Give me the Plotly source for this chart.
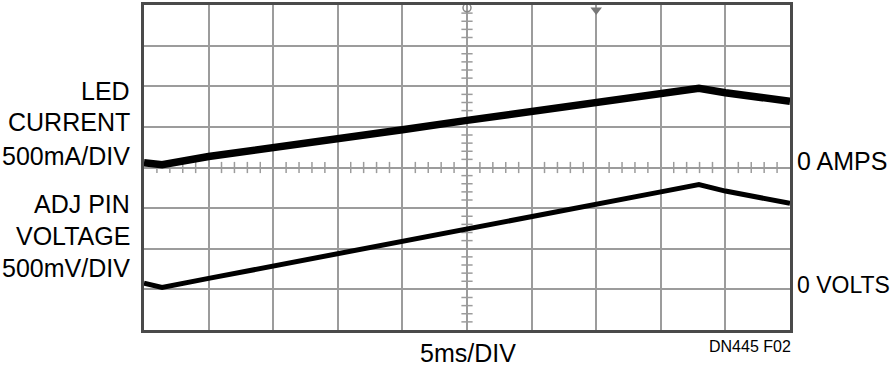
import plotly.graph_objects as go

# Time axis in divisions (5 ms/div), amplitude in divisions
led_x = [0.0, 0.28, 1.0, 2.0, 2.9, 4.0, 5.0, 6.1, 6.9, 7.05, 8.0, 8.59, 9.0, 10.0]
led_y = [0.12, 0.07, 0.27, 0.48, 0.68, 0.93, 1.16, 1.41, 1.58, 1.64, 1.83, 1.95, 1.84, 1.63]

adj_x = [0.0, 0.28, 1.0, 2.0, 3.0, 5.0, 7.0, 8.0, 8.59, 9.0, 10.0]
adj_y = [-2.85, -2.95, -2.73, -2.43, -2.12, -1.51, -0.9, -0.6, -0.42, -0.58, -0.88]

left_labels = ["LED", "CURRENT", "500mA/DIV", "ADJ PIN", "VOLTAGE", "500mV/DIV"]
left_label_y = [0.7346, 0.6401, 0.5364, 0.387, 0.2895, 0.1919]
right_labels = ["0 AMPS", "0 VOLTS"]
right_label_y = [0.5212, 0.137]
right_label_size = [25, 23]

FONT = "Liberation Sans, Arial, sans-serif"
GRID = "#9c9c9c"

fig = go.Figure()

# minor ticks on centre lines
minor_h = [i * 0.2 for i in range(1, 50) if i % 5 != 0]
minor_v = [-4 + i * 0.2 for i in range(1, 40) if i % 5 != 0]
fig.add_trace(go.Scatter(x=minor_h, y=[0] * len(minor_h), mode="markers",
                         marker=dict(symbol="line-ns", size=8, line=dict(color=GRID, width=1.5)),
                         hoverinfo="skip", showlegend=False))
fig.add_trace(go.Scatter(x=[5] * len(minor_v), y=minor_v, mode="markers",
                         marker=dict(symbol="line-ew", size=8, line=dict(color=GRID, width=1.5)),
                         hoverinfo="skip", showlegend=False))

fig.add_trace(go.Scatter(x=led_x, y=led_y, mode="lines",
                         line=dict(color="black", width=7.5), showlegend=False))
fig.add_trace(go.Scatter(x=adj_x, y=adj_y, mode="lines",
                         line=dict(color="black", width=5), showlegend=False))

# trigger markers at the top
fig.add_trace(go.Scatter(x=[5], y=[3.93], mode="markers", cliponaxis=False,
                         marker=dict(symbol="circle-open", size=8, color="#888", line=dict(width=1.5)),
                         hoverinfo="skip", showlegend=False))
fig.add_trace(go.Scatter(x=[7], y=[3.88], mode="markers", cliponaxis=False,
                         marker=dict(symbol="triangle-down", size=10, color="#777"),
                         hoverinfo="skip", showlegend=False))

for t, y in zip(left_labels, left_label_y):
    fig.add_annotation(x=-0.019, y=y, xref="paper", yref="paper", text=t, showarrow=False,
                       xanchor="right", yanchor="middle",
                       font=dict(family=FONT, size=25, color="black"))
for t, y, s in zip(right_labels, right_label_y, right_label_size):
    fig.add_annotation(x=1.0085, y=y, xref="paper", yref="paper", text=t, showarrow=False,
                       xanchor="left", yanchor="middle",
                       font=dict(family=FONT, size=s, color="black"))
fig.add_annotation(x=0.5023, y=-0.07, xref="paper", yref="paper", text="5ms/DIV", showarrow=False,
                   xanchor="center", yanchor="middle", font=dict(family=FONT, size=25, color="black"))
fig.add_annotation(x=1.004, y=-0.052, xref="paper", yref="paper", text="DN445 F02", showarrow=False,
                   xanchor="right", yanchor="middle", font=dict(family=FONT, size=16, color="black"))

fig.update_xaxes(range=[0, 10], dtick=1, showgrid=True, gridcolor=GRID, gridwidth=2,
                 zeroline=False, showticklabels=False, ticks="",
                 showline=True, mirror=True, linecolor="#4a4a4a", linewidth=3)
fig.update_yaxes(range=[-4, 4], dtick=1, showgrid=True, gridcolor=GRID, gridwidth=2,
                 zeroline=False, showticklabels=False, ticks="",
                 showline=True, mirror=True, linecolor="#4a4a4a", linewidth=3)

fig.update_layout(width=896, height=374, margin=dict(l=144, r=106, t=2, b=44),
                  plot_bgcolor="white", paper_bgcolor="white", showlegend=False)

fig.write_html("out.html", config={"displayModeBar": False},
               post_script="document.body.style.margin='0';document.body.style.padding='0';")
